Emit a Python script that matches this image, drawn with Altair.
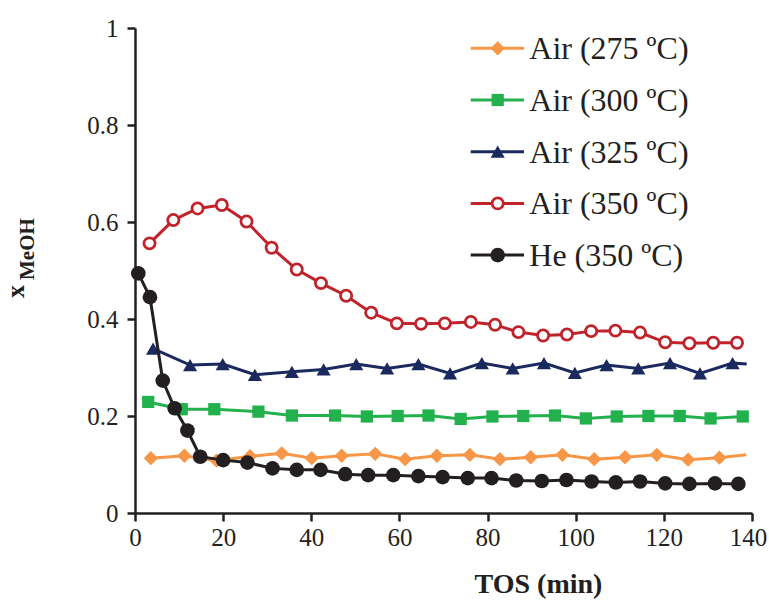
import altair as alt
import pandas as pd

# ---------------- data ----------------
series_names = ["Air (275 ºC)", "Air (300 ºC)", "Air (325 ºC)", "Air (350 ºC)", "He (350 ºC)"]

air275_t = [3.6, 11.2, 18.5, 26.1, 33.3, 40.1, 46.9, 54.5, 61.3, 68.5, 76.0, 82.8, 89.8, 97.0,
            104.2, 111.2, 118.4, 125.5, 132.6, 138.7]
air275_v = [0.113, 0.118, 0.108, 0.117, 0.123, 0.113, 0.118, 0.122, 0.111, 0.118, 0.120, 0.111,
            0.115, 0.120, 0.111, 0.115, 0.120, 0.110, 0.114, 0.120]

air300_t = [3.0, 10.6, 18.0, 28.0, 35.6, 45.4, 52.6, 59.6, 66.6, 73.9, 81.1, 88.1, 95.3, 102.3,
            109.3, 116.5, 123.6, 130.6, 137.9]
air300_v = [0.229, 0.214, 0.214, 0.209, 0.201, 0.201, 0.199, 0.200, 0.201, 0.194, 0.199, 0.200,
            0.201, 0.195, 0.199, 0.200, 0.200, 0.195, 0.199]

air325_t = [4.1, 12.5, 19.9, 27.2, 35.6, 42.8, 50.2, 57.2, 64.3, 71.5, 78.7, 85.7, 92.8, 99.8,
            107.0, 114.2, 121.4, 128.2, 135.6, 138.8]
air325_v = [0.339, 0.305, 0.307, 0.285, 0.291, 0.296, 0.307, 0.298, 0.307, 0.288, 0.309, 0.298,
            0.309, 0.289, 0.305, 0.298, 0.309, 0.288, 0.309, 0.307]

air350_t = [3.3, 8.7, 14.2, 19.7, 25.3, 31.0, 36.7, 42.2, 47.9, 53.6, 59.4, 64.9, 70.3, 76.2,
            81.7, 87.0, 92.6, 98.0, 103.5, 109.0, 114.6, 120.3, 125.8, 131.2, 136.6]
air350_v = [0.556, 0.604, 0.628, 0.635, 0.601, 0.547, 0.502, 0.474, 0.448, 0.413, 0.391, 0.390,
            0.391, 0.394, 0.388, 0.373, 0.366, 0.368, 0.375, 0.376, 0.372, 0.352, 0.350, 0.351,
            0.351]

he350_t = [0.75, 3.4, 6.3, 9.0, 11.9, 14.8, 20.0, 25.5, 31.2, 36.7, 42.1, 47.7, 52.9, 58.6, 64.3,
           69.8, 75.5, 80.9, 86.5, 92.3, 97.9, 103.6, 109.1, 114.6, 120.3, 125.8, 131.6, 136.9]
he350_v = [0.494, 0.445, 0.273, 0.216, 0.170, 0.116, 0.109, 0.104, 0.092, 0.089, 0.089, 0.080,
           0.078, 0.078, 0.076, 0.074, 0.072, 0.072, 0.067, 0.066, 0.068, 0.065, 0.063, 0.065,
           0.061, 0.060, 0.061, 0.060]

# series whose final point is drawn without a marker in the original
no_end_marker = ["Air (275 ºC)", "Air (325 ºC)"]

x_ticks = [0, 20, 40, 60, 80, 100, 120, 140]
y_ticks = [0, 0.2, 0.4, 0.6, 0.8, 1.0]

# ---------------- styles ----------------
FONT = "Liberation Serif"
INK = "#231F20"
colors = ["#F79646", "#22B14C", "#1B2A5E", "#C1232B", "#231F20"]
shapes = ["diamond", "square", "triangle-up", "circle", "circle"]
filled = [True, True, True, False, True]
sizes = [205, 150, 200, 125, 215]

all_t = [air275_t, air300_t, air325_t, air350_t, he350_t]
all_v = [air275_v, air300_v, air325_v, air350_v, he350_v]

X = alt.X("t:Q",
          scale=alt.Scale(domain=[0, 140], nice=False, zero=False),
          axis=alt.Axis(values=x_ticks, title="TOS (min)", labelFlush=False, labelOverlap=False,
                        labelPadding=4,
                        labelOffset={"condition": {"test": "datum.value === 140", "value": -4},
                                     "value": 0},
                        titleX=403, titleY=79, titleAlign="center",
                        titleBaseline="alphabetic", titleFont=FONT, titleFontSize=28,
                        titleFontWeight="bold", titleColor=INK))
Y = alt.Y("v:Q",
          scale=alt.Scale(domain=[0, 1], nice=False),
          axis=alt.Axis(values=y_ticks, format=".1~f", title=None, labelPadding=9))

layers = []
for i, name in enumerate(series_names):
    df = pd.DataFrame({"t": all_t[i], "v": all_v[i]})
    df["m"] = True
    if name in no_end_marker:
        df.loc[df.index[-1], "m"] = False
    layers.append(alt.Chart(df).mark_line(color=colors[i], strokeWidth=3).encode(x=X, y=Y))
    if filled[i]:
        pm = alt.Chart(df).mark_point(shape=shapes[i], size=sizes[i], filled=True,
                                      color=colors[i], opacity=1)
    else:
        pm = alt.Chart(df).mark_point(shape=shapes[i], size=sizes[i], filled=False,
                                      stroke=colors[i], fill="white", fillOpacity=1,
                                      strokeWidth=2.75, opacity=1)
    layers.append(pm.transform_filter("datum.m").encode(x=X, y=Y))

# ---------------- legend (drawn manually: line + marker + label) ----------------
one = pd.DataFrame({"k": [0]})
for i, name in enumerate(series_names):
    ly = 20.3 + 51.7 * i
    layers.append(alt.Chart(one).mark_rule(color=colors[i], strokeWidth=3).encode(
        x=alt.value(335.7), x2=alt.value(389), y=alt.value(ly)))
    if filled[i]:
        lp = alt.Chart(one).mark_point(shape=shapes[i], size=sizes[i], filled=True,
                                       color=colors[i], opacity=1)
    else:
        lp = alt.Chart(one).mark_point(shape=shapes[i], size=sizes[i], filled=False,
                                       stroke=colors[i], fill="white", fillOpacity=1,
                                       strokeWidth=2.75, opacity=1)
    layers.append(lp.encode(x=alt.value(362.7), y=alt.value(ly)))
    layers.append(alt.Chart(one).mark_text(align="left", baseline="alphabetic", font=FONT,
                                           fontSize=32, color=INK).encode(
        x=alt.value(394.3), y=alt.value(ly + 11), text=alt.value(name)))

# ---------------- y-axis title x_MeOH (rotated, with subscript) ----------------
layers.append(alt.Chart(one).mark_text(angle=270, align="left", baseline="alphabetic",
                                       font=FONT, fontSize=26, fontWeight="bold",
                                       color=INK).encode(
    x=alt.value(-111), y=alt.value(270), text=alt.value("x")))
layers.append(alt.Chart(one).mark_text(angle=270, align="left", baseline="alphabetic",
                                       font=FONT, fontSize=21, fontWeight="bold",
                                       color=INK).encode(
    x=alt.value(-101), y=alt.value(252), text=alt.value("MeOH")))

chart = alt.layer(*layers).properties(
    width=617, height=485, autosize="none",
    padding={"left": 135, "top": 28, "right": 17, "bottom": 90},
    background="white",
).configure_view(stroke=None).configure_axis(
    grid=False, domainColor=INK, tickColor=INK, domainWidth=2.5, tickWidth=2.5, tickSize=8,
    labelFont=FONT, labelFontSize=25, labelColor=INK,
)

chart.save("out.html", embed_options={"renderer": "svg", "actions": False})
